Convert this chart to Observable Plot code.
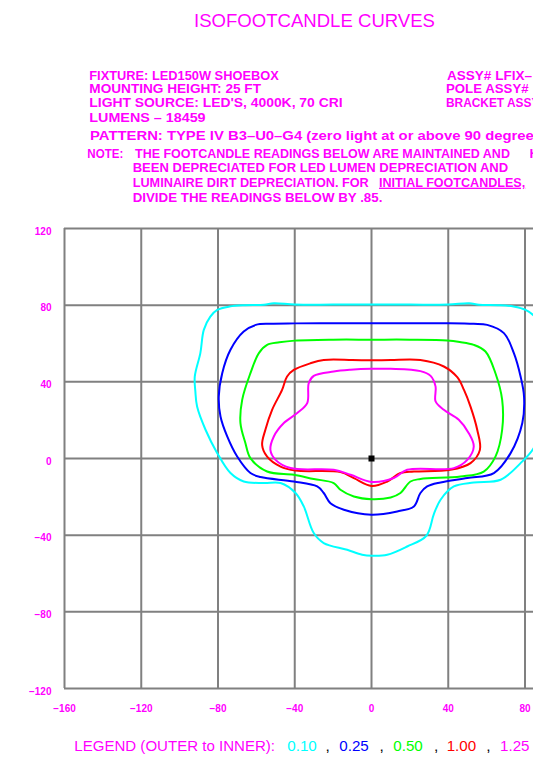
<!DOCTYPE html>
<html>
<head>
<meta charset="utf-8">
<script src="https://cdn.jsdelivr.net/npm/d3@7"></script>
<script src="https://cdn.jsdelivr.net/npm/@observablehq/plot@0.6"></script>
<style>
  html, body { margin: 0; padding: 0; background: #fff; overflow: hidden; width: 533px; height: 761px; }
  #page { position: relative; width: 533px; height: 761px; overflow: hidden; }
  #chart { position: absolute; left: 0; top: 200px; }
  #overlay { position: absolute; left: 0; top: 0; }
  #overlay text { font-family: "Liberation Sans", Arial, sans-serif; }
</style>
</head>
<body>
<div id="page">
  <div id="chart"></div>
  <svg id="overlay" width="720" height="761"></svg>
</div>
<script>
// ---- DATA ----
const xTicks = [-160, -120, -80, -40, 0, 40, 80, 120, 160];
const yTicks = [-120, -80, -40, 0, 40, 80, 120];
const levels = ["0.10", "0.25", "0.50", "1.00", "1.25"];
const levelColors = ["#00ffff", "#0000ff", "#00ff00", "#ff0000", "#ff00ff"];
const origin = [[0, 0]];

// 0.10 fc contour (outer)
const fc010 = [[0,80.3],[-20,80.3],[-40,80.3],[-50.9,81],[-56,80.2],[-66,80],[-74,79.3],[-80.4,77.5],[-84,74],[-87.4,67.1],[-89.2,55],[-92.1,42.8],[-91.8,35],[-90.9,27.1],[-86.5,15],[-80.4,2.8],[-73.5,-7.6],[-66.6,-12],[-56.1,-12.8],[-47.4,-12.8],[-39.6,-18],[-35.3,-25],[-30.1,-38.9],[-24.9,-44.1],[-12.7,-47.6],[-4.9,-50.2],[0.4,-50.7],[8.2,-50.2],[18.6,-45.9],[28.6,-40.3],[32.5,-29],[36,-21.5],[42.9,-14.6],[53.3,-12.5],[67.3,-11.1],[77.7,-2.4],[84.5,5.4],[88,15],[91,27],[92.5,42],[90.5,55],[88,67],[85,74],[80.3,77.5],[74,79.3],[66,80],[56,80.2],[50.9,81],[40,80.3],[20,80.3]];
// 0.25 fc contour
const fc025 = [[0,70.6],[-20,70.6],[-40,70.5],[-52.7,70.3],[-60.3,69.7],[-66.6,66.2],[-73.5,56.7],[-77.8,44.5],[-79.6,32.3],[-78.7,21.9],[-75.2,11.5],[-70,1],[-63.1,-7.6],[-57.9,-9.7],[-40.5,-12],[-28.3,-14.6],[-24.9,-18],[-21.4,-23.3],[-14.4,-26.7],[0,-29.3],[13.4,-27.6],[22.1,-25],[25.5,-18],[29,-14.6],[36,-12.5],[49.9,-10.2],[63.8,-7.6],[72.5,2.8],[78.6,18.5],[79.5,32.3],[77.7,42.8],[74.2,55],[69,65.4],[60.3,69.7],[53.3,70.3],[40,70.6],[20,70.6]];
// 0.50 fc contour
const fc050 = [[0,62],[-20,62],[-40,61.5],[-48,60.6],[-54.4,59.3],[-58.7,55],[-63.1,44.5],[-67.4,30.6],[-68.3,18.5],[-65.7,8],[-63.1,0.2],[-54.4,-6.8],[-40.5,-8.5],[-30.1,-10.7],[-19.7,-12.8],[-16.2,-16.3],[-9.2,-19.8],[0,-21.2],[10,-20.3],[15.1,-18],[20.3,-12],[25.5,-10.7],[46.4,-9.4],[58.5,-6.8],[64.6,1],[68.1,15],[68.1,30.6],[64.6,44.5],[59.4,55.8],[53.3,59.3],[46,60.8],[39.5,61.6],[20,62]];
// 1.00 fc contour
const fc100 = [[0,51.2],[-10,51.4],[-24.9,51.4],[-31.8,49.7],[-40.5,46.2],[-44,42.8],[-46.6,35.8],[-51.8,25.4],[-55.3,15],[-57,7],[-54.4,1],[-47.4,-4.2],[-39.6,-6.3],[-16.2,-7.1],[-9.2,-10.2],[0,-14.3],[8.2,-12],[15.1,-7.6],[22.1,-6.8],[41.2,-5.9],[51.6,-2.4],[56.5,4.5],[55.1,15],[51.6,27.1],[48.2,35.8],[44.7,42.4],[37.7,48],[25.5,51.4],[10,51.4]];
// 1.25 fc contour (inner)
const fc125 = [[0,46.8],[-10.9,46.3],[-19.7,45.4],[-30.1,43.1],[-32.7,39.3],[-33.5,28.9],[-38.7,23.7],[-45.7,18.5],[-50.9,11.5],[-52.7,4.5],[-50,-0.7],[-42.2,-5],[-19.7,-5.9],[-10.9,-8.5],[0,-12.2],[11.6,-10.2],[18.6,-5.9],[42.9,-5],[49.9,-0.7],[53.3,6.3],[50.7,13.2],[45.5,20.2],[37.7,25.4],[33.4,29.8],[33.4,37.5],[30.8,43.1],[25.5,45.6],[10,46.8]];

const curves = [fc010, fc025, fc050, fc100, fc125];

// ---- CHART ----
const fmt = d => d < 0 ? "\u2212" + Math.abs(d) : String(d);
const gridColor = "#808080";

const chart = Plot.plot({
  width: 698,
  height: 520,
  marginLeft: 64,
  marginRight: 20,
  marginTop: 28,
  marginBottom: 32,
  style: "max-width:none;overflow:visible;background:transparent;color:#ff00ff;font-family:'Liberation Sans',Arial,sans-serif;",
  x: {domain: [-160, 160]},
  y: {domain: [-120, 120]},
  marks: [
    Plot.ruleX(xTicks, {stroke: gridColor, strokeWidth: 2}),
    Plot.ruleY(yTicks, {stroke: gridColor, strokeWidth: 2}),
    ...curves.map((c, i) => Plot.line(c, {
      x: d => d[0], y: d => d[1],
      stroke: levelColors[i], strokeWidth: 2,
      curve: "catmull-rom-closed"
    })),
    Plot.dot(origin, {x: d => d[0], y: d => d[1], symbol: "square", r: 3.4, fill: "black"}),
    Plot.axisX({ticks: xTicks, anchor: "bottom", tickSize: 0, tickPadding: 16, tickFormat: fmt,
      fontSize: 10, fontWeight: "bold", fill: "#ff00ff", label: null}),
    Plot.axisY({ticks: yTicks, anchor: "left", tickSize: 0, tickPadding: 13, tickFormat: fmt,
      fontSize: 10, fontWeight: "bold", fill: "#ff00ff", dy: 3, label: null})
  ]
});
document.getElementById("chart").appendChild(chart);

// ---- HEADER / LEGEND TEXT ----
const ov = d3.select("#overlay");
const MAG = "#ff00ff";
function txt(s, x, y, len, opts = {}) {
  const t = ov.append("text")
    .attr("x", x).attr("y", y)
    .attr("fill", opts.fill || MAG)
    .attr("font-size", opts.size || 13)
    .attr("font-weight", opts.weight || "bold")
    .text(s);
  if (len) t.attr("textLength", len).attr("lengthAdjust", "spacingAndGlyphs");
  if (opts.underline) t.attr("text-decoration", "underline");
  return t;
}

txt("ISOFOOTCANDLE CURVES", 194, 26.7, 241, {size: 18.5, weight: "normal"});

txt("FIXTURE: LED150W SHOEBOX", 89.3, 79.5, 189.4);
txt("MOUNTING HEIGHT: 25 FT", 89.3, 93.3, 171.7);
txt("LIGHT SOURCE: LED'S, 4000K, 70 CRI", 89.3, 106.9, 253.3);
txt("LUMENS \u2013 18459", 89.3, 121.7, 116.3);
txt("PATTERN:  TYPE IV B3\u2013U0\u2013G4 (zero light at or above 90 degrees)", 90, 139.6, 457);

txt("ASSY# LFIX\u2013", 447, 79.5, 85);
txt("POLE ASSY#", 446, 93.3, 82.6);
txt("BRACKET ASSY#", 446, 106.9, 100);

txt("NOTE:", 87.3, 158.3, 36);
txt("THE FOOTCANDLE READINGS BELOW ARE MAINTAINED AND", 135, 158.3, 374.9);
txt("HAVE", 529.5, 158.3, 36);
txt("BEEN DEPRECIATED FOR LED LUMEN DEPRECIATION AND", 132.7, 172.3, 375.5);
txt("LUMINAIRE DIRT DEPRECIATION. FOR", 132.7, 186.7, 236.1);
txt("INITIAL FOOTCANDLES,", 379, 186.7, 146.2, {underline: true});
txt("DIVIDE THE READINGS BELOW BY .85.", 132.7, 201.7, 249.7);

// legend
txt("LEGEND (OUTER to INNER):", 74.3, 750.7, 200.7, {weight: "normal", size: 15.5});
const legX = [287.3, 339.3, 393.3, 446.7, 500];
const commaX = [325.5, 379.5, 434, 486.3];
levels.forEach((lv, i) => {
  txt(lv, legX[i], 750.7, 29.5, {fill: levelColors[i], weight: "normal", size: 15.5});
  if (i < commaX.length) txt(",", commaX[i], 750.7, null, {fill: "#000", weight: "normal", size: 15.5});
});
</script>
</body>
</html>
